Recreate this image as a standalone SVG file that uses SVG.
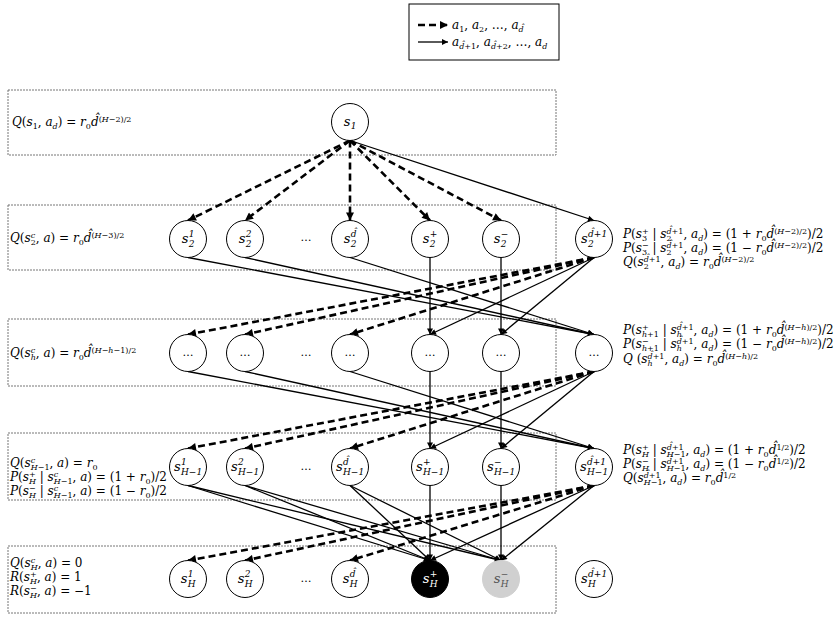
<svg xmlns="http://www.w3.org/2000/svg" width="839" height="624" viewBox="0 0 839 624">
<style>
.f{font-family:"DejaVu Serif","Liberation Serif",serif;font-size:12px;fill:#000}
.i{font-style:italic}
.sb{font-size:8px;baseline-shift:-2.5px}
.sp{font-size:8px;baseline-shift:4.5px}
.box{fill:none;stroke:#777;stroke-width:1;stroke-dasharray:2 1}
.nd{fill:#fff;stroke:#000;stroke-width:1}
.nl{font-family:"DejaVu Serif","Liberation Serif",serif;font-size:13px;font-style:italic;fill:#000}
.ns{font-size:9px}
.sol{fill:none;stroke:#000;stroke-width:1.3;marker-end:url(#ah)}
.dsh{fill:none;stroke:#000;stroke-width:2.6;stroke-dasharray:7 4;marker-end:url(#ahd)}
.dots{font-family:"DejaVu Serif","Liberation Serif",serif;font-size:11px;fill:#000;text-anchor:middle}
</style>
<defs>
<marker id="ah" viewBox="0 0 10 10" refX="10" refY="5" markerWidth="7" markerHeight="6" orient="auto" markerUnits="userSpaceOnUse"><path d="M0,0 L10,5 L0,10 z" fill="#000"/></marker>
<marker id="ahd" viewBox="0 0 10 10" refX="10" refY="5" markerWidth="9" markerHeight="8" orient="auto" markerUnits="userSpaceOnUse"><path d="M0,0 L10,5 L0,10 z" fill="#000"/></marker>
</defs>
<rect width="839" height="624" fill="#fff"/>

<g id="legend">
<rect x="409" y="4" width="150" height="56" fill="#fff" stroke="#000" stroke-width="1"/>
<line x1="418" y1="25" x2="448" y2="25" class="dsh" stroke-dasharray="6 3"/>
<line x1="418" y1="42" x2="448" y2="42" class="sol"/>
<text class="f" x="452" y="29"><tspan class="i">a</tspan><tspan class="sb">1</tspan>, <tspan class="i">a</tspan><tspan class="sb">2</tspan>, …, <tspan class="i">a</tspan><tspan class="sb i">d̂</tspan></text>
<text class="f" x="452" y="46"><tspan class="i">a</tspan><tspan class="sb"><tspan class="i">d̂</tspan>+1</tspan>, <tspan class="i">a</tspan><tspan class="sb"><tspan class="i">d̂</tspan>+2</tspan>, …, <tspan class="i">a</tspan><tspan class="sb i">d</tspan></text>
</g>

<g id="boxes">
<rect class="box" x="8" y="90" width="548" height="65"/>
<rect class="box" x="8" y="205" width="548" height="65"/>
<rect class="box" x="8" y="319" width="548" height="67"/>
<rect class="box" x="8" y="433" width="548" height="67"/>
<rect class="box" x="8" y="546" width="548" height="67"/>
</g>

<g id="left-labels">
<text class="f" x="12" y="126"><tspan class="i">Q</tspan>(<tspan class="i">s</tspan><tspan class="sb">1</tspan>, <tspan class="i">a</tspan><tspan class="sb i">d</tspan>) = <tspan class="i">r</tspan><tspan class="sb">0</tspan><tspan class="i">d̂</tspan><tspan class="sp">(<tspan class="i">H</tspan>−2)/2</tspan></text>
<text class="f" x="10" y="242"><tspan class="i">Q</tspan>(<tspan class="i">s</tspan><tspan class="sb">2</tspan><tspan class="sp i" dx="-5.1">c</tspan><tspan dx="0.6">, </tspan><tspan class="i">a</tspan>) = <tspan class="i">r</tspan><tspan class="sb">0</tspan><tspan class="i">d̂</tspan><tspan class="sp">(<tspan class="i">H</tspan>−3)/2</tspan></text>
<text class="f" x="10" y="357"><tspan class="i">Q</tspan>(<tspan class="i">s</tspan><tspan class="sb i">h</tspan><tspan class="sp i" dx="-5.1">c</tspan><tspan dx="0.6">, </tspan><tspan class="i">a</tspan>) = <tspan class="i">r</tspan><tspan class="sb">0</tspan><tspan class="i">d̂</tspan><tspan class="sp">(<tspan class="i">H</tspan>−<tspan class="i">h</tspan>−1)/2</tspan></text>
<text class="f" x="10" y="467"><tspan class="i">Q</tspan>(<tspan class="i">s</tspan><tspan class="sb"><tspan class="i">H</tspan>−1</tspan><tspan class="sp i" dx="-18.8">c</tspan><tspan dx="14.3">, </tspan><tspan class="i">a</tspan>) = <tspan class="i">r</tspan><tspan class="sb">0</tspan></text>
<text class="f" x="10" y="481"><tspan class="i">P</tspan>(<tspan class="i">s</tspan><tspan class="sb i">H</tspan><tspan class="sp" dx="-7">+</tspan><tspan dx="0.3"> | </tspan><tspan class="i">s</tspan><tspan class="sb"><tspan class="i">H</tspan>−1</tspan><tspan class="sp i" dx="-18.8">c</tspan><tspan dx="14.3">, </tspan><tspan class="i">a</tspan>) = (1 + <tspan class="i">r</tspan><tspan class="sb">0</tspan>)/2</text>
<text class="f" x="10" y="495"><tspan class="i">P</tspan>(<tspan class="i">s</tspan><tspan class="sb i">H</tspan><tspan class="sp" dx="-7">−</tspan><tspan dx="0.3"> | </tspan><tspan class="i">s</tspan><tspan class="sb"><tspan class="i">H</tspan>−1</tspan><tspan class="sp i" dx="-18.8">c</tspan><tspan dx="14.3">, </tspan><tspan class="i">a</tspan>) = (1 − <tspan class="i">r</tspan><tspan class="sb">0</tspan>)/2</text>
<text class="f" x="10" y="567"><tspan class="i">Q</tspan>(<tspan class="i">s</tspan><tspan class="sb i">H</tspan><tspan class="sp i" dx="-7">c</tspan><tspan dx="2.5">, </tspan><tspan class="i">a</tspan>) = 0</text>
<text class="f" x="10" y="581"><tspan class="i">R</tspan>(<tspan class="i">s</tspan><tspan class="sb i">H</tspan><tspan class="sp" dx="-7">+</tspan><tspan dx="0.3">, </tspan><tspan class="i">a</tspan>) = 1</text>
<text class="f" x="10" y="595"><tspan class="i">R</tspan>(<tspan class="i">s</tspan><tspan class="sb i">H</tspan><tspan class="sp" dx="-7">−</tspan><tspan dx="0.3">, </tspan><tspan class="i">a</tspan>) = −1</text>
</g>

<g id="right-labels">
<text class="f" x="623" y="238"><tspan class="i">P</tspan>(<tspan class="i">s</tspan><tspan class="sp">+</tspan><tspan class="sb" dx="-6.7">3</tspan><tspan dx="1.6"> | </tspan><tspan class="i">s</tspan><tspan class="sp"><tspan class="i">d̂</tspan>+1</tspan><tspan class="sb" dx="-16.9">2</tspan><tspan dx="11.8">, </tspan><tspan class="i">a</tspan><tspan class="sb i">d</tspan>) = (1 + <tspan class="i">r</tspan><tspan class="sb">0</tspan><tspan class="i">d̂</tspan><tspan class="sp">(<tspan class="i">H</tspan>−2)/2</tspan>)/2</text>
<text class="f" x="623" y="252"><tspan class="i">P</tspan>(<tspan class="i">s</tspan><tspan class="sp">−</tspan><tspan class="sb" dx="-6.7">3</tspan><tspan dx="1.6"> | </tspan><tspan class="i">s</tspan><tspan class="sp"><tspan class="i">d̂</tspan>+1</tspan><tspan class="sb" dx="-16.9">2</tspan><tspan dx="11.8">, </tspan><tspan class="i">a</tspan><tspan class="sb i">d</tspan>) = (1 − <tspan class="i">r</tspan><tspan class="sb">0</tspan><tspan class="i">d̂</tspan><tspan class="sp">(<tspan class="i">H</tspan>−2)/2</tspan>)/2</text>
<text class="f" x="623" y="266"><tspan class="i">Q</tspan>(<tspan class="i">s</tspan><tspan class="sp"><tspan class="i">d̂</tspan>+1</tspan><tspan class="sb" dx="-16.9">2</tspan><tspan dx="11.8">, </tspan><tspan class="i">a</tspan><tspan class="sb i">d</tspan>) = <tspan class="i">r</tspan><tspan class="sb">0</tspan><tspan class="i">d̂</tspan><tspan class="sp">(<tspan class="i">H</tspan>−2)/2</tspan></text>

<text class="f" x="623" y="334"><tspan class="i">P</tspan>(<tspan class="i">s</tspan><tspan class="sb"><tspan class="i">h</tspan>+1</tspan><tspan class="sp" dx="-16.9">+</tspan><tspan dx="10.2"> | </tspan><tspan class="i">s</tspan><tspan class="sp"><tspan class="i">d̂</tspan>+1</tspan><tspan class="sb i" dx="-16.9">h</tspan><tspan dx="11.7">, </tspan><tspan class="i">a</tspan><tspan class="sb i">d</tspan>) = (1 + <tspan class="i">r</tspan><tspan class="sb">0</tspan><tspan class="i">d̂</tspan><tspan class="sp">(<tspan class="i">H</tspan>−<tspan class="i">h</tspan>)/2</tspan>)/2</text>
<text class="f" x="623" y="348"><tspan class="i">P</tspan>(<tspan class="i">s</tspan><tspan class="sb"><tspan class="i">h</tspan>+1</tspan><tspan class="sp" dx="-16.9">−</tspan><tspan dx="10.2"> | </tspan><tspan class="i">s</tspan><tspan class="sp"><tspan class="i">d̂</tspan>+1</tspan><tspan class="sb i" dx="-16.9">h</tspan><tspan dx="11.7">, </tspan><tspan class="i">a</tspan><tspan class="sb i">d</tspan>) = (1 − <tspan class="i">r</tspan><tspan class="sb">0</tspan><tspan class="i">d̂</tspan><tspan class="sp">(<tspan class="i">H</tspan>−<tspan class="i">h</tspan>)/2</tspan>)/2</text>
<text class="f" x="623" y="363"><tspan class="i">Q</tspan> (<tspan class="i">s</tspan><tspan class="sp"><tspan class="i">d̂</tspan>+1</tspan><tspan class="sb i" dx="-16.9">h</tspan><tspan dx="11.7">, </tspan><tspan class="i">a</tspan><tspan class="sb i">d</tspan>) = <tspan class="i">r</tspan><tspan class="sb">0</tspan><tspan class="i">d̂</tspan><tspan class="sp">(<tspan class="i">H</tspan>−<tspan class="i">h</tspan>)/2</tspan></text>

<text class="f" x="623" y="454"><tspan class="i">P</tspan>(<tspan class="i">s</tspan><tspan class="sb i">H</tspan><tspan class="sp" dx="-7">+</tspan><tspan dx="0.3"> | </tspan><tspan class="i">s</tspan><tspan class="sb"><tspan class="i">H</tspan>−1</tspan><tspan class="sp" dx="-18.8"><tspan class="i">d̂</tspan>+1</tspan><tspan dx="1.9">, </tspan><tspan class="i">a</tspan><tspan class="sb i">d</tspan>) = (1 + <tspan class="i">r</tspan><tspan class="sb">0</tspan><tspan class="i">d̂</tspan><tspan class="sp">1/2</tspan>)/2</text>
<text class="f" x="623" y="468"><tspan class="i">P</tspan>(<tspan class="i">s</tspan><tspan class="sb i">H</tspan><tspan class="sp" dx="-7">−</tspan><tspan dx="0.3"> | </tspan><tspan class="i">s</tspan><tspan class="sb"><tspan class="i">H</tspan>−1</tspan><tspan class="sp" dx="-18.8"><tspan class="i">d̂</tspan>+1</tspan><tspan dx="1.9">, </tspan><tspan class="i">a</tspan><tspan class="sb i">d</tspan>) = (1 − <tspan class="i">r</tspan><tspan class="sb">0</tspan><tspan class="i">d̂</tspan><tspan class="sp">1/2</tspan>)/2</text>
<text class="f" x="623" y="482"><tspan class="i">Q</tspan>(<tspan class="i">s</tspan><tspan class="sb"><tspan class="i">H</tspan>−1</tspan><tspan class="sp" dx="-18.8"><tspan class="i">d̂</tspan>+1</tspan><tspan dx="1.9">, </tspan><tspan class="i">a</tspan><tspan class="sb i">d</tspan>) = <tspan class="i">r</tspan><tspan class="sb">0</tspan><tspan class="i">d̂</tspan><tspan class="sp">1/2</tspan></text>
</g>

<g id="connectors">
<line class="dsh" x1="350" y1="140.5" x2="188" y2="220.5"/>
<line class="dsh" x1="350" y1="140.5" x2="245" y2="220.5"/>
<line class="dsh" x1="350" y1="140.5" x2="350" y2="220.5"/>
<line class="dsh" x1="350" y1="140.5" x2="430" y2="220.5"/>
<line class="dsh" x1="350" y1="140.5" x2="501" y2="220.5"/>
<line class="sol" x1="350" y1="140.5" x2="594" y2="220.5"/>
<line class="sol" x1="188" y1="257.5" x2="594" y2="334.5"/>
<line class="sol" x1="245" y1="257.5" x2="594" y2="334.5"/>
<line class="sol" x1="350" y1="257.5" x2="594" y2="334.5"/>
<line class="sol" x1="430" y1="257.5" x2="430" y2="334.5"/>
<line class="sol" x1="501" y1="257.5" x2="501" y2="334.5"/>
<line class="dsh" x1="594" y1="257.5" x2="188" y2="334.5"/>
<line class="dsh" x1="594" y1="257.5" x2="245" y2="334.5"/>
<line class="dsh" x1="594" y1="257.5" x2="350" y2="334.5"/>
<line class="sol" x1="594" y1="257.5" x2="430" y2="334.5"/>
<line class="sol" x1="594" y1="257.5" x2="501" y2="334.5"/>
<line class="sol" x1="188" y1="371.5" x2="594" y2="448.5"/>
<line class="sol" x1="245" y1="371.5" x2="594" y2="448.5"/>
<line class="sol" x1="350" y1="371.5" x2="594" y2="448.5"/>
<line class="sol" x1="430" y1="371.5" x2="430" y2="448.5"/>
<line class="sol" x1="501" y1="371.5" x2="501" y2="448.5"/>
<line class="dsh" x1="594" y1="371.5" x2="188" y2="448.5"/>
<line class="dsh" x1="594" y1="371.5" x2="245" y2="448.5"/>
<line class="dsh" x1="594" y1="371.5" x2="350" y2="448.5"/>
<line class="sol" x1="594" y1="371.5" x2="430" y2="448.5"/>
<line class="sol" x1="594" y1="371.5" x2="501" y2="448.5"/>
<line class="sol" x1="188" y1="485.5" x2="430" y2="560.5"/>
<line class="sol" x1="188" y1="485.5" x2="501" y2="560.5"/>
<line class="sol" x1="245" y1="485.5" x2="430" y2="560.5"/>
<line class="sol" x1="245" y1="485.5" x2="501" y2="560.5"/>
<line class="sol" x1="350" y1="485.5" x2="430" y2="560.5"/>
<line class="sol" x1="350" y1="485.5" x2="501" y2="560.5"/>
<line class="sol" x1="430" y1="485.5" x2="430" y2="560.5"/>
<line class="sol" x1="501" y1="485.5" x2="501" y2="560.5"/>
<line class="sol" x1="594" y1="485.5" x2="430" y2="560.5"/>
<line class="sol" x1="594" y1="485.5" x2="501" y2="560.5"/>
<line class="dsh" x1="594" y1="485.5" x2="188" y2="560.5"/>
<line class="dsh" x1="594" y1="485.5" x2="245" y2="560.5"/>
<line class="dsh" x1="594" y1="485.5" x2="350" y2="560.5"/>
</g>

<g id="gaps">
<text class="dots" x="306" y="241">…</text>
<text class="dots" x="306" y="356">…</text>
<text class="dots" x="306" y="470">…</text>
<text class="dots" x="306" y="582">…</text>
</g>

<g id="n-s1"><circle class="nd" cx="350" cy="122" r="18.5"/><text class="nl"><tspan x="343.7" y="126">s</tspan><tspan class="ns" x="350.7" y="129">1</tspan></text></g>

<g id="n-s2-1"><circle class="nd" cx="188" cy="239" r="18.5"/><text class="nl"><tspan x="181.7" y="243">s</tspan><tspan class="ns" x="188.7" y="237">1</tspan><tspan class="ns" x="188.7" y="247">2</tspan></text></g>
<g id="n-s2-2"><circle class="nd" cx="245" cy="239" r="18.5"/><text class="nl"><tspan x="238.7" y="243">s</tspan><tspan class="ns" x="245.7" y="237">2</tspan><tspan class="ns" x="245.7" y="247">2</tspan></text></g>
<g id="n-s2-d"><circle class="nd" cx="350" cy="239" r="18.5"/><text class="nl"><tspan x="343.7" y="243">s</tspan><tspan class="ns" x="350.7" y="237">d̂</tspan><tspan class="ns" x="350.7" y="247">2</tspan></text></g>
<g id="n-s2-plus"><circle class="nd" cx="430" cy="239" r="18.5"/><text class="nl"><tspan x="422.8" y="243">s</tspan><tspan class="ns" x="429.8" y="237">+</tspan><tspan class="ns" x="429.8" y="247">2</tspan></text></g>
<g id="n-s2-minus"><circle class="nd" cx="501" cy="239" r="18.5"/><text class="nl"><tspan x="493.8" y="243">s</tspan><tspan class="ns" x="500.8" y="237">−</tspan><tspan class="ns" x="500.8" y="247">2</tspan></text></g>
<g id="n-s2-d1"><circle class="nd" cx="594" cy="239" r="18.5"/><text class="nl"><tspan x="581.1" y="243">s</tspan><tspan class="ns" x="588.1" y="237">d̂+1</tspan><tspan class="ns" x="588.1" y="247">2</tspan></text></g>

<g id="n-sh-1"><circle class="nd" cx="188" cy="353" r="18.5"/><text class="dots" x="188" y="356">…</text></g>
<g id="n-sh-2"><circle class="nd" cx="245" cy="353" r="18.5"/><text class="dots" x="245" y="356">…</text></g>
<g id="n-sh-d"><circle class="nd" cx="350" cy="353" r="18.5"/><text class="dots" x="350" y="356">…</text></g>
<g id="n-sh-plus"><circle class="nd" cx="430" cy="353" r="18.5"/><text class="dots" x="430" y="356">…</text></g>
<g id="n-sh-minus"><circle class="nd" cx="501" cy="353" r="18.5"/><text class="dots" x="501" y="356">…</text></g>
<g id="n-sh-d1"><circle class="nd" cx="594" cy="353" r="18.5"/><text class="dots" x="594" y="356">…</text></g>

<g id="n-sH1-1"><circle class="nd" cx="188" cy="467" r="18.5"/><text class="nl"><tspan x="174" y="471">s</tspan><tspan class="ns" x="181" y="465">1</tspan><tspan class="ns" x="181" y="475">H−1</tspan></text></g>
<g id="n-sH1-2"><circle class="nd" cx="245" cy="467" r="18.5"/><text class="nl"><tspan x="231" y="471">s</tspan><tspan class="ns" x="238" y="465">2</tspan><tspan class="ns" x="238" y="475">H−1</tspan></text></g>
<g id="n-sH1-d"><circle class="nd" cx="350" cy="467" r="18.5"/><text class="nl"><tspan x="336" y="471">s</tspan><tspan class="ns" x="343" y="465">d̂</tspan><tspan class="ns" x="343" y="475">H−1</tspan></text></g>
<g id="n-sH1-plus"><circle class="nd" cx="430" cy="467" r="18.5"/><text class="nl"><tspan x="416" y="471">s</tspan><tspan class="ns" x="423" y="465">+</tspan><tspan class="ns" x="423" y="475">H−1</tspan></text></g>
<g id="n-sH1-minus"><circle class="nd" cx="501" cy="467" r="18.5"/><text class="nl"><tspan x="487" y="471">s</tspan><tspan class="ns" x="494" y="465">−</tspan><tspan class="ns" x="494" y="475">H−1</tspan></text></g>
<g id="n-sH1-d1"><circle class="nd" cx="594" cy="467" r="18.5"/><text class="nl"><tspan x="580" y="471">s</tspan><tspan class="ns" x="587" y="465">d̂+1</tspan><tspan class="ns" x="587" y="475">H−1</tspan></text></g>

<g id="n-sH-1"><circle class="nd" cx="188" cy="579" r="18.5"/><text class="nl"><tspan x="180.7" y="583">s</tspan><tspan class="ns" x="187.7" y="577">1</tspan><tspan class="ns" x="187.7" y="587">H</tspan></text></g>
<g id="n-sH-2"><circle class="nd" cx="245" cy="579" r="18.5"/><text class="nl"><tspan x="237.7" y="583">s</tspan><tspan class="ns" x="244.7" y="577">2</tspan><tspan class="ns" x="244.7" y="587">H</tspan></text></g>
<g id="n-sH-d"><circle class="nd" cx="350" cy="579" r="18.5"/><text class="nl"><tspan x="342.7" y="583">s</tspan><tspan class="ns" x="349.7" y="577">d̂</tspan><tspan class="ns" x="349.7" y="587">H</tspan></text></g>
<g id="n-sH-plus"><circle cx="430" cy="579" r="18.5" fill="#000" stroke="#000"/><text class="nl" style="fill:#fff"><tspan x="422.7" y="583">s</tspan><tspan class="ns" x="429.7" y="577">+</tspan><tspan class="ns" x="429.7" y="587">H</tspan></text></g>
<g id="n-sH-minus"><circle cx="501" cy="579" r="18.5" fill="#d0d0d0" stroke="#d0d0d0"/><text class="nl" style="fill:#555"><tspan x="493.7" y="583">s</tspan><tspan class="ns" x="500.7" y="577">−</tspan><tspan class="ns" x="500.7" y="587">H</tspan></text></g>
<g id="n-sH-d1"><circle class="nd" cx="594" cy="579" r="18.5"/><text class="nl"><tspan x="581.1" y="583">s</tspan><tspan class="ns" x="588.1" y="577">d̂+1</tspan><tspan class="ns" x="588.1" y="587">H</tspan></text></g>
</svg>
